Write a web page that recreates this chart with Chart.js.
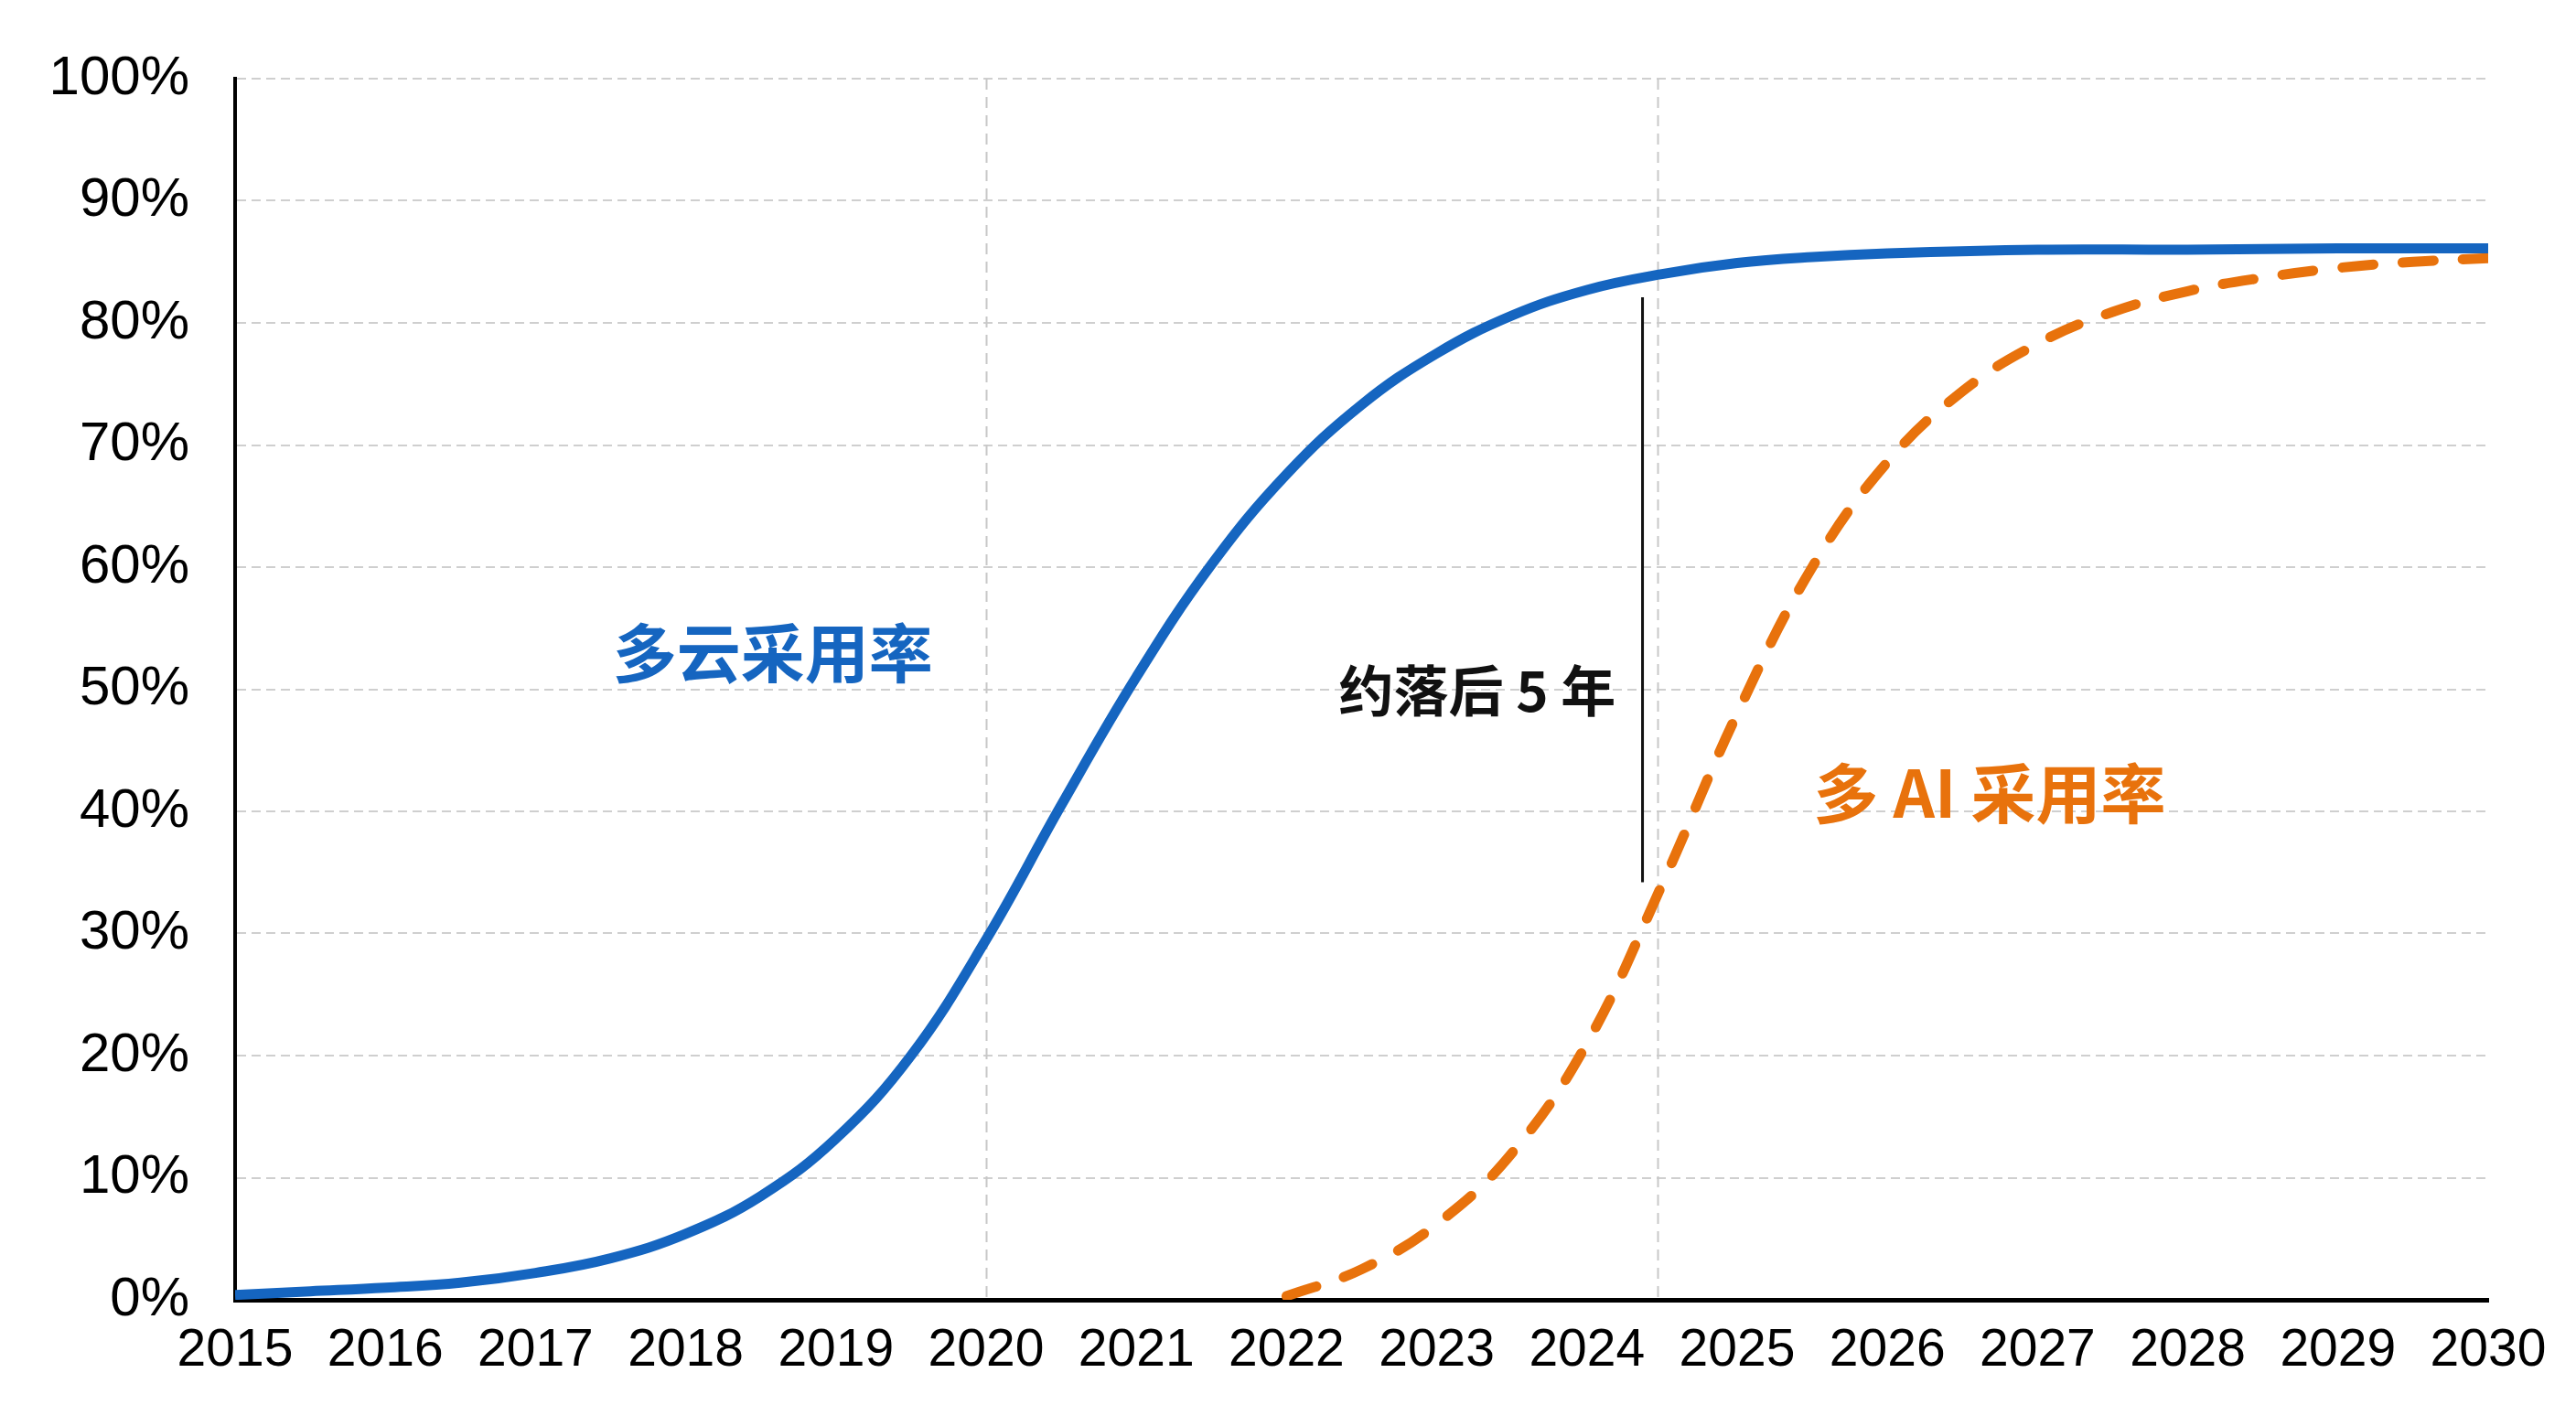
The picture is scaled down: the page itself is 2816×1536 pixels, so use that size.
<!DOCTYPE html>
<html>
<head>
<meta charset="utf-8">
<script src="https://cdn.jsdelivr.net/npm/chart.js@4.4.1/dist/chart.umd.min.js"></script>
<style>
  html, body { margin: 0; background: #fff; }
</style>
</head>
<body>
<canvas id="chart" width="2816" height="1536"></canvas>
<script>
// values (years, adoption %)
const cloudYears = [2015, 2015.5, 2016, 2016.5, 2017, 2017.5, 2018, 2018.5, 2019, 2019.5, 2020, 2020.5, 2021, 2021.5, 2022, 2022.5, 2023, 2023.5, 2024, 2024.5, 2025, 2025.5, 2026, 2027, 2028, 2029, 2030];
const cloudRate = [0.4, 0.7, 1.0, 1.4, 2.2, 3.4, 5.4, 8.5, 13.2, 20, 29.5, 40.5, 51, 60.2, 67.6, 73.3, 77.5, 80.6, 82.7, 84.0, 84.9, 85.4, 85.7, 86, 86, 86.1, 86.1];

const aiYears = [2022, 2022.5, 2023, 2023.5, 2024, 2024.5, 2025, 2025.5, 2026, 2026.5, 2027, 2027.5, 2028, 2028.5, 2029, 2029.5, 2030];
const aiRate = [0.3, 2.5, 6.2, 12, 21, 34, 48, 60, 68.6, 74.4, 78.3, 80.9, 82.6, 83.7, 84.5, 85, 85.3];

// "about 5 years behind" marker
const lagYear = 2024.37;
const lagRange = [82.1, 34.2];

const guideYears = [2020, 2024.47];

const yearTicks = [2015, 2016, 2017, 2018, 2019, 2020, 2021, 2022, 2023, 2024, 2025, 2026, 2027, 2028, 2029, 2030];
const pctTicks = [0, 10, 20, 30, 40, 50, 60, 70, 80, 90, 100];

const BLUE = "#1565c0";
const ORANGE = "#e8720c";
const CJK = "'Noto Sans CJK SC', 'Noto Sans', sans-serif";

const notes = [
  { text: "多云采用率", x: 2018.58, y: 52.9, color: BLUE, size: 70 },
  { text: "约落后 5 年", x: 2023.27, y: 49.9, color: "#111", size: 60 },
  { text: "多 AI 采用率", x: 2026.68, y: 41.5, color: ORANGE, size: 71 },
];

Chart.defaults.font.family = "'Liberation Sans', Arial, sans-serif";
Chart.defaults.color = "#000";

const guides = {
  id: "guides",
  beforeDatasetsDraw(chart) {
    const { ctx, chartArea, scales } = chart;
    ctx.save();
    ctx.strokeStyle = "#c8c8c8";
    ctx.lineWidth = 2;
    ctx.setLineDash([12, 8]);
    guideYears.forEach((yr) => {
      const x = Math.round(scales.x.getPixelForValue(yr)) + 0.5;
      ctx.beginPath();
      ctx.moveTo(x, chartArea.top);
      ctx.lineTo(x, chartArea.bottom);
      ctx.stroke();
    });
    ctx.restore();
  },
};

const labelsPlugin = {
  id: "notes",
  afterDatasetsDraw(chart) {
    const { ctx, scales } = chart;
    ctx.save();
    ctx.textAlign = "center";
    ctx.textBaseline = "middle";
    notes.forEach((n) => {
      ctx.font = `bold ${n.size}px ${CJK}`;
      ctx.fillStyle = n.color;
      ctx.fillText(n.text, scales.x.getPixelForValue(n.x), scales.y.getPixelForValue(n.y));
    });
    ctx.restore();
  },
};

new Chart(document.getElementById("chart"), {
  type: "line",
  data: {
    datasets: [
      {
        label: "多云采用率",
        data: cloudYears.map((x, i) => ({ x, y: cloudRate[i] })),
        borderColor: BLUE,
        borderWidth: 11,
        pointRadius: 0,
        tension: 0.4,
        borderCapStyle: "butt",
      },
      {
        label: "多 AI 采用率",
        data: aiYears.map((x, i) => ({ x, y: aiRate[i] })),
        borderColor: ORANGE,
        borderWidth: 11,
        borderDash: [34, 32],
        borderCapStyle: "round",
        pointRadius: 0,
        tension: 0.4,
      },
      {
        label: "lag",
        data: lagRange.map((y) => ({ x: lagYear, y })),
        borderColor: "#111",
        borderWidth: 3,
        pointRadius: 0,
      },
    ],
  },
  options: {
    responsive: false,
    animation: false,
    devicePixelRatio: 1,
    layout: { padding: { top: 83, right: 96, left: 0, bottom: 0 } },
    plugins: { legend: { display: false }, tooltip: { enabled: false } },
    scales: {
      x: {
        type: "linear",
        min: 2015,
        max: 2030,
        afterBuildTicks: (s) => { s.ticks = yearTicks.map((v) => ({ value: v })); },
        afterFit: (s) => { s.height = 115; },
        ticks: {
          callback: (v) => String(v),
          font: { size: 57 },
          padding: 22,
          maxRotation: 0,
          autoSkip: false,
        },
        grid: { drawOnChartArea: false, drawTicks: false },
        border: { display: true, color: "#000", width: 5 },
      },
      y: {
        min: 0,
        max: 100,
        afterBuildTicks: (s) => { s.ticks = pctTicks.map((v) => ({ value: v })); },
        afterFit: (s) => { s.width = 257; },
        ticks: {
          callback: (v) => v + "%",
          font: { size: 60 },
          padding: 50,
        },
        grid: { color: "#cfcfcf", lineWidth: 2, drawTicks: false },
        border: { display: true, color: "#000", width: 4, dash: [10, 6] },
      },
    },
  },
  plugins: [guides, labelsPlugin],
});
</script>
</body>
</html>
